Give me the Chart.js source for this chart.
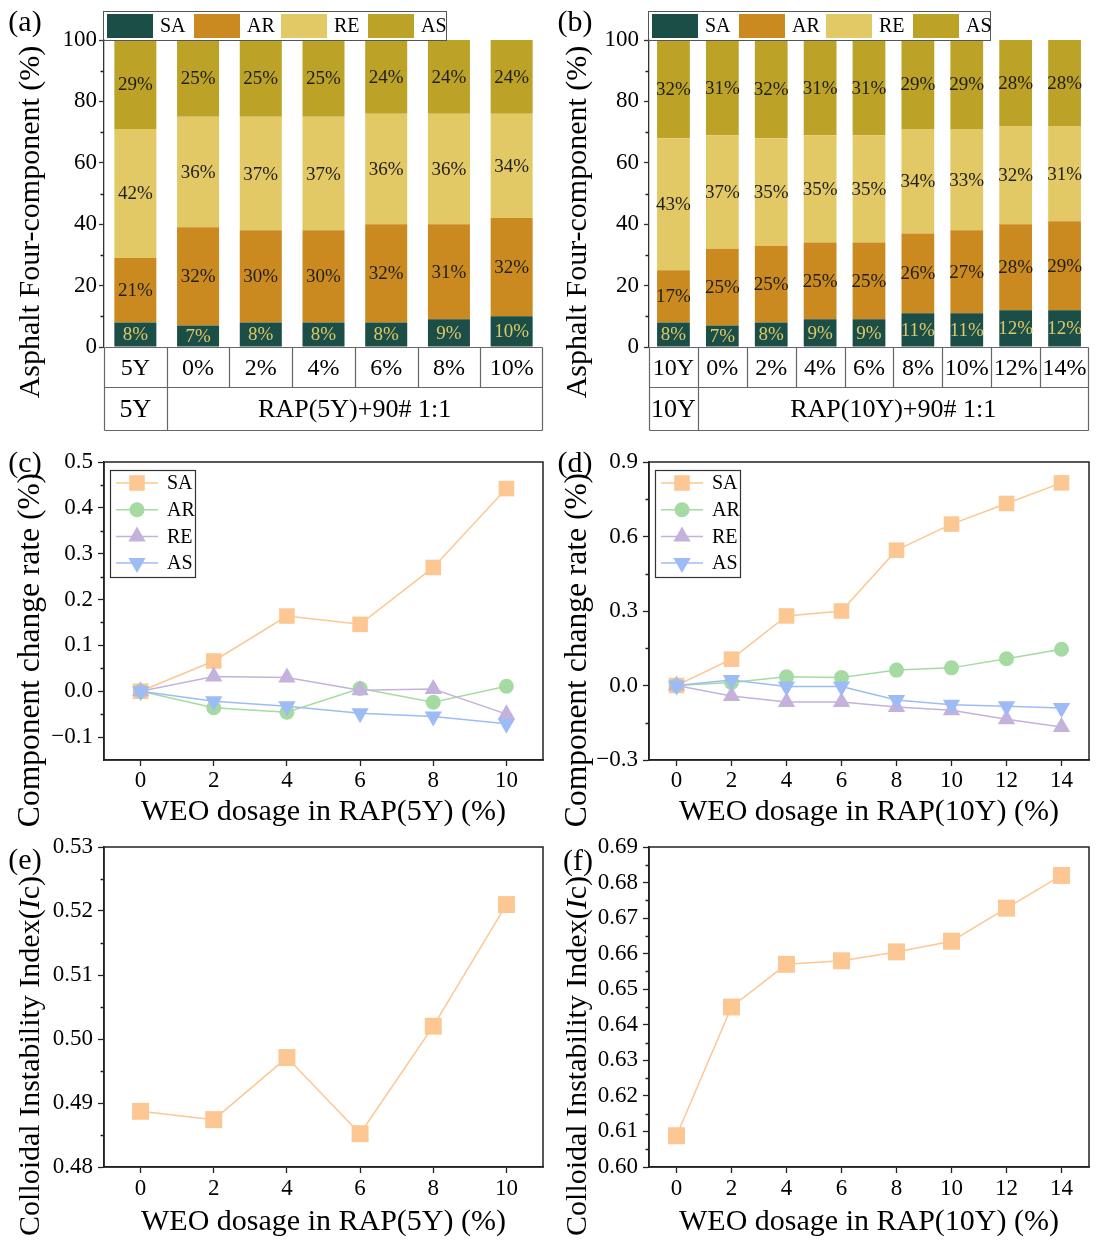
<!DOCTYPE html>
<html><head><meta charset="utf-8">
<script src="https://cdn.jsdelivr.net/npm/chart.js@4.4.0/dist/chart.umd.min.js"></script>
<style>
html,body{margin:0;padding:0;background:#fff;}
#page{position:relative;width:1096px;height:1249px;overflow:hidden;font-family:'Liberation Serif','Times New Roman',serif;color:#000;}
.box{position:absolute;}
.box canvas{display:block;}
.plab{position:absolute;font-size:30px;line-height:1;white-space:nowrap;transform:translate(-50%,-50%);z-index:5;}
.ytl{position:absolute;font-size:30px;line-height:1;white-space:nowrap;transform:translate(-50%,-50%) rotate(-90deg);z-index:5;}
</style></head>
<body><div id="page">
<div class="box" style="left:0;top:0;"><canvas id="ca" width="548" height="440"></canvas></div>
<div class="box" style="left:548px;top:0;"><canvas id="cb" width="548" height="440"></canvas></div>
<div class="box" style="left:0;top:440px;"><canvas id="cc" width="548" height="400"></canvas></div>
<div class="box" style="left:548px;top:440px;"><canvas id="cd" width="548" height="400"></canvas></div>
<div class="box" style="left:0;top:825px;"><canvas id="ce" width="548" height="424"></canvas></div>
<div class="box" style="left:548px;top:825px;"><canvas id="cf" width="548" height="424"></canvas></div>

<div class="plab" style="left:25px;top:21px;">(a)</div>
<div class="plab" style="left:575px;top:21px;">(b)</div>
<div class="plab" style="left:25px;top:462px;">(c)</div>
<div class="plab" style="left:575px;top:462px;">(d)</div>
<div class="plab" style="left:25px;top:859px;">(e)</div>
<div class="plab" style="left:578px;top:860px;">(f)</div>

<div class="ytl" style="left:29px;top:222px;">Asphalt Four-component (%)</div>
<div class="ytl" style="left:576px;top:222px;">Asphalt Four-component (%)</div>
<div class="ytl" style="left:29px;top:650px;font-size:31.5px;">Component change rate (%)</div>
<div class="ytl" style="left:576px;top:650px;font-size:31.5px;">Component change rate (%)</div>
<div class="ytl" style="left:29px;top:1056px;">Colloidal Instability Index(<i>I</i>c)</div>
<div class="ytl" style="left:576px;top:1056px;">Colloidal Instability Index(<i>I</i>c)</div>
</div>
<script>
// ---------------- DATA ----------------
const compNames = ['SA', 'AR', 'RE', 'AS'];

// (a) RAP(5Y)
const aCats = ['5Y', '0%', '2%', '4%', '6%', '8%', '10%'];
const aSA = [8, 7, 8, 8, 8, 9, 10];
const aAR = [21, 32, 30, 30, 32, 31, 32];
const aRE = [42, 36, 37, 37, 36, 36, 34];
const aAS = [29, 25, 25, 25, 24, 24, 24];
const aRow2First = '5Y';
const aRow2Rest = 'RAP(5Y)+90# 1:1';

// (b) RAP(10Y)
const bCats = ['10Y', '0%', '2%', '4%', '6%', '8%', '10%', '12%', '14%'];
const bSA = [8, 7, 8, 9, 9, 11, 11, 12, 12];
const bAR = [17, 25, 25, 25, 25, 26, 27, 28, 29];
const bRE = [43, 37, 35, 35, 35, 34, 33, 32, 31];
const bAS = [32, 31, 32, 31, 31, 29, 29, 28, 28];
const bRow2First = '10Y';
const bRow2Rest = 'RAP(10Y)+90# 1:1';

const barYTicks = [0, 20, 40, 60, 80, 100];

// (c) change rate, RAP(5Y)
const cX = [0, 2, 4, 6, 8, 10];
const cSA = [0, 0.066, 0.164, 0.146, 0.270, 0.442];
const cAR = [0, -0.036, -0.046, 0.006, -0.024, 0.011];
const cRE = [0, 0.032, 0.030, 0.002, 0.005, -0.050];
const cAS = [0, -0.022, -0.033, -0.048, -0.055, -0.071];
const cYTicks = [-0.1, 0.0, 0.1, 0.2, 0.3, 0.4, 0.5];

// (d) change rate, RAP(10Y)
const dX = [0, 2, 4, 6, 8, 10, 12, 14];
const dSA = [0, 0.106, 0.280, 0.300, 0.545, 0.650, 0.733, 0.816];
const dAR = [0, 0.012, 0.035, 0.032, 0.062, 0.071, 0.108, 0.146];
const dRE = [0, -0.042, -0.066, -0.066, -0.087, -0.100, -0.136, -0.167];
const dAS = [0, 0.022, -0.004, -0.004, -0.058, -0.078, -0.084, -0.091];
const dYTicks = [-0.3, 0.0, 0.3, 0.6, 0.9];

// (e) colloidal instability index, RAP(5Y)
const eX = [0, 2, 4, 6, 8, 10];
const eIc = [0.4887, 0.4874, 0.4971, 0.4852, 0.5020, 0.5210];
const eYTicks = [0.48, 0.49, 0.50, 0.51, 0.52, 0.53];

// (f) colloidal instability index, RAP(10Y)
const fX = [0, 2, 4, 6, 8, 10, 12, 14];
const fIc = [0.6088, 0.6450, 0.6570, 0.6580, 0.6605, 0.6635, 0.6728, 0.6820];
const fYTicks = [0.60, 0.61, 0.62, 0.63, 0.64, 0.65, 0.66, 0.67, 0.68, 0.69];

const x5Ticks = [0, 2, 4, 6, 8, 10];
const x10Ticks = [0, 2, 4, 6, 8, 10, 12, 14];

// ---------------- STYLE ----------------
const FONT = "'Liberation Serif','Times New Roman',serif";
Chart.defaults.font.family = FONT;
Chart.defaults.color = '#000';
Chart.defaults.animation = false;

const barColors = ['#1b4e46', '#cb8a1f', '#e3c965', '#bca226'];
const lineColors = ['#fcc792', '#a5dba2', '#c4b2dc', '#9dbcf5'];
const lineStyles = [
  {pointStyle: 'rect', pointRadius: 11, pointRotation: 0},
  {pointStyle: 'circle', pointRadius: 7.5, pointRotation: 0},
  {pointStyle: 'triangle', pointRadius: 10, pointRotation: 0},
  {pointStyle: 'triangle', pointRadius: 10, pointRotation: 180}
];

function fmt(dec) {
  return v => {
    const s = Number(v).toFixed(dec);
    return s.charAt(0) === '-' ? '\u2212' + s.slice(1) : s;
  };
}

function drawMarker(ctx, style, r, rot, x, y, color) {
  ctx.save();
  ctx.fillStyle = color;
  ctx.beginPath();
  if (style === 'rect') {
    const s = r * Math.SQRT1_2;
    ctx.rect(x - s, y - s, 2 * s, 2 * s);
  } else if (style === 'circle') {
    ctx.arc(x, y, r, 0, Math.PI * 2);
  } else {
    let a = (rot || 0) * Math.PI / 180;
    for (let k = 0; k < 3; k++) {
      const px = x + Math.sin(a) * r, py = y - Math.cos(a) * r;
      if (k) ctx.lineTo(px, py); else ctx.moveTo(px, py);
      a += 2 * Math.PI / 3;
    }
    ctx.closePath();
  }
  ctx.fill();
  ctx.restore();
}

// ---------------- PLUGINS ----------------
const minorTicks = {
  id: 'minorTicks',
  afterDraw(chart, args, o) {
    const s = chart.scales.y, ctx = chart.ctx;
    const t = s.ticks.map(k => k.value);
    ctx.save();
    ctx.strokeStyle = o.color || '#222';
    ctx.lineWidth = o.width || 1.3;
    ctx.beginPath();
    for (let i = 0; i < t.length - 1; i++) {
      const py = Math.round(s.getPixelForValue((t[i] + t[i + 1]) / 2)) + 0.5;
      ctx.moveTo(s.right - (o.len || 3.5), py);
      ctx.lineTo(s.right, py);
    }
    ctx.stroke();
    ctx.restore();
  }
};

const frame = {
  id: 'frame',
  afterDraw(chart, args, o) {
    if (!o.show) return;
    const {ctx, chartArea: a} = chart;
    ctx.save();
    ctx.strokeStyle = '#222';
    ctx.lineWidth = 1.5;
    ctx.strokeRect(a.left, a.top, a.right - a.left, a.bottom - a.top);
    ctx.restore();
  }
};

const lineLegend = {
  id: 'lineLegend',
  afterDraw(chart, args, o) {
    if (!o.show) return;
    const {ctx, chartArea: a} = chart;
    const L = a.left + o.dx, T = a.top + o.dy;
    ctx.save();
    ctx.strokeStyle = '#333';
    ctx.lineWidth = 1.2;
    ctx.strokeRect(L + 0.5, T + 0.5, o.w, o.h);
    ctx.font = o.fs + 'px ' + FONT;
    ctx.textBaseline = 'middle';
    chart.data.datasets.forEach((ds, i) => {
      const y = T + o.y0 + i * o.step;
      ctx.strokeStyle = ds.borderColor;
      ctx.lineWidth = ds.borderWidth;
      ctx.beginPath();
      ctx.moveTo(L + 6, y);
      ctx.lineTo(L + 48, y);
      ctx.stroke();
      drawMarker(ctx, ds.pointStyle, ds.pointRadius, ds.pointRotation, L + 27, y, ds.backgroundColor);
      ctx.fillStyle = '#000';
      ctx.fillText(ds.label, L + 57, y + 1);
    });
    ctx.restore();
  }
};

const barLegend = {
  id: 'barLegend',
  afterDraw(chart, args, o) {
    if (!o.show) return;
    const {ctx, chartArea: a} = chart;
    const L = Math.round(a.left) - 1;
    ctx.save();
    ctx.strokeStyle = '#555';
    ctx.lineWidth = 1;
    ctx.strokeRect(L + 0.5, o.top + 0.5, o.w, o.h);
    ctx.font = o.fs + 'px ' + FONT;
    ctx.textBaseline = 'middle';
    chart.data.datasets.forEach((ds, i) => {
      const x = L + 4 + i * o.step;
      ctx.fillStyle = ds.backgroundColor;
      ctx.fillRect(x, o.top + 3, o.sw, o.h - 5);
      ctx.fillStyle = '#000';
      ctx.fillText(ds.label, x + o.sw + 7, o.top + o.h / 2 + 1);
    });
    ctx.restore();
  }
};

const barValues = {
  id: 'barValues',
  afterDatasetsDraw(chart, args, o) {
    if (!o.show) return;
    const ctx = chart.ctx;
    ctx.save();
    ctx.font = o.fs + 'px ' + FONT;
    ctx.textAlign = 'center';
    ctx.textBaseline = 'middle';
    chart.data.datasets.forEach((ds, di) => {
      const meta = chart.getDatasetMeta(di);
      meta.data.forEach((el, i) => {
        const p = el.getProps(['x', 'y', 'base'], true);
        ctx.fillStyle = di === 0 ? o.light : o.dark;
        ctx.fillText(ds.data[i] + '%', p.x, (p.y + p.base) / 2 + 1);
      });
    });
    ctx.restore();
  }
};

const table = {
  id: 'table',
  afterDraw(chart, args, o) {
    if (!o.show) return;
    const {ctx, chartArea: a, scales: {x}} = chart;
    const n = chart.data.labels.length;
    const half = (x.getPixelForValue(1) - x.getPixelForValue(0)) / 2;
    const y0 = Math.round(a.bottom) + 0.5, y1 = y0 + o.r1, y2 = y1 + o.r2;
    const L = Math.round(a.left) + 0.5, R = Math.round(a.right) - 0.5;
    ctx.save();
    ctx.strokeStyle = '#666';
    ctx.lineWidth = 1.2;
    ctx.beginPath();
    [y0, y1, y2].forEach(y => { ctx.moveTo(L, y); ctx.lineTo(R, y); });
    ctx.moveTo(L, y0); ctx.lineTo(L, y2);
    ctx.moveTo(R, y0); ctx.lineTo(R, y2);
    for (let i = 0; i < n - 1; i++) {
      const xb = Math.round(x.getPixelForValue(i) + half) + 0.5;
      ctx.moveTo(xb, y0);
      ctx.lineTo(xb, i === 0 ? y2 : y1);
    }
    ctx.stroke();
    ctx.fillStyle = '#000';
    ctx.textAlign = 'center';
    ctx.textBaseline = 'middle';
    ctx.font = o.fs1 + 'px ' + FONT;
    chart.data.labels.forEach((l, i) => ctx.fillText(l, x.getPixelForValue(i), (y0 + y1) / 2 + 1));
    ctx.font = o.fs2 + 'px ' + FONT;
    ctx.fillText(o.first, x.getPixelForValue(0), (y1 + y2) / 2 + 1);
    const xb0 = x.getPixelForValue(0) + half;
    ctx.fillText(o.rest, (xb0 + R) / 2, (y1 + y2) / 2 + 1);
    ctx.restore();
  }
};

Chart.register(minorTicks, frame, lineLegend, barLegend, barValues, table);

// ---------------- BUILDERS ----------------
function barChart(id, cats, series, yWidth, padRight, row1, row2, tickPad, legendW) {
  return new Chart(document.getElementById(id), {
    type: 'bar',
    data: {
      labels: cats,
      datasets: series.map((d, i) => ({
        label: compNames[i], data: d, backgroundColor: barColors[i],
        borderWidth: 0, barPercentage: 0.67, categoryPercentage: 1
      }))
    },
    options: {
      responsive: false,
      layout: {autoPadding: false, padding: {left: 0, right: padRight, top: 40, bottom: 93}},
      plugins: {
        legend: {display: false}, tooltip: {enabled: false},
        minorTicks: {len: 3.5},
        frame: {show: false},
        lineLegend: {show: false},
        barLegend: {show: true, top: 11, h: 29, w: legendW, step: 87, sw: 46, fs: 20},
        barValues: {show: true, fs: 19, light: '#dcc86a', dark: '#1e1e1e'},
        table: {show: true, r1: 40, r2: 43, fs1: 24, fs2: 26, first: row1, rest: row2}
      },
      scales: {
        x: {stacked: true, display: false},
        y: {
          stacked: true, min: 0, max: 100,
          afterBuildTicks: s => { s.ticks = barYTicks.map(v => ({value: v})); },
          afterFit: s => { s.width = yWidth; s.paddingTop = 0; s.paddingBottom = 0; },
          ticks: {font: {size: 23}, padding: tickPad, callback: fmt(0)},
          grid: {drawOnChartArea: false, drawTicks: true, tickLength: 5, tickColor: '#333', tickWidth: 1.3},
          border: {display: true, color: '#333', width: 1.3}
        }
      }
    }
  });
}

function lineChart(id, xs, series, xMin, xMax, xTicks, yMin, yMax, yTicks, dec, xTitle, yWidth, padRight, xHeight, titlePad, xTickPad, showLegend, radius) {
  return new Chart(document.getElementById(id), {
    type: 'line',
    data: {
      datasets: series.map((d, i) => ({
        label: compNames[i],
        data: xs.map((x, k) => ({x: x, y: d[k]})),
        borderColor: lineColors[i], backgroundColor: lineColors[i],
        borderWidth: 1.5,
        pointStyle: lineStyles[i].pointStyle,
        pointRadius: radius || lineStyles[i].pointRadius,
        pointRotation: lineStyles[i].pointRotation,
        pointBorderWidth: 0,
        pointBackgroundColor: lineColors[i],
        pointBorderColor: lineColors[i],
        order: series.length - i,
        clip: false,
        tension: 0
      }))
    },
    options: {
      responsive: false,
      layout: {autoPadding: false, padding: {left: 0, right: padRight, top: 22, bottom: 0}},
      plugins: {
        legend: {display: false}, tooltip: {enabled: false},
        minorTicks: {len: 3.5},
        frame: {show: true},
        lineLegend: {show: showLegend, dx: 6, dy: 8, w: 85, h: 107, y0: 13, step: 26.7, fs: 20},
        barLegend: {show: false},
        barValues: {show: false},
        table: {show: false}
      },
      scales: {
        x: {
          type: 'linear', min: xMin, max: xMax,
          afterBuildTicks: s => { s.ticks = xTicks.map(v => ({value: v})); },
          afterFit: s => { s.height = xHeight; s.paddingLeft = 0; s.paddingRight = 0; },
          ticks: {font: {size: 23}, padding: xTickPad, callback: fmt(0), maxRotation: 0},
          grid: {drawOnChartArea: false, drawTicks: true, tickLength: 6, tickColor: '#222', tickWidth: 1.3},
          border: {display: true, color: '#222', width: 1.5},
          title: {display: true, text: xTitle, font: {size: 30}, padding: {top: 0, bottom: titlePad}}
        },
        y: {
          min: yMin, max: yMax,
          afterBuildTicks: s => { s.ticks = yTicks.map(v => ({value: v})); },
          afterFit: s => { s.width = yWidth; s.paddingTop = 0; s.paddingBottom = 0; },
          ticks: {font: {size: 23}, padding: 5, callback: fmt(dec)},
          grid: {drawOnChartArea: false, drawTicks: true, tickLength: 6, tickColor: '#222', tickWidth: 1.3},
          border: {display: true, color: '#222', width: 1.5}
        }
      }
    }
  });
}

barChart('ca', aCats, [aSA, aAR, aRE, aAS], 104, 5, aRow2First, aRow2Rest, 2, 343);
barChart('cb', bCats, [bSA, bAR, bRE, bAS], 101, 7, bRow2First, bRow2Rest, 5, 342);

lineChart('cc', cX, [cSA, cAR, cRE, cAS], -1, 11, x5Ticks, -0.15, 0.5, cYTicks, 1, 'WEO dosage in RAP(5Y) (%)', 104, 5, 80, 10, 1, true);
lineChart('cd', dX, [dSA, dAR, dRE, dAS], -1, 15, x10Ticks, -0.3, 0.9, dYTicks, 1, 'WEO dosage in RAP(10Y) (%)', 101, 7, 80, 10, 1, true);
lineChart('ce', eX, [eIc], -1, 11, x5Ticks, 0.48, 0.53, eYTicks, 2, 'WEO dosage in RAP(5Y) (%)', 104, 5, 82, 9, 2, false, 12);
lineChart('cf', fX, [fIc], -1, 15, x10Ticks, 0.60, 0.69, fYTicks, 2, 'WEO dosage in RAP(10Y) (%)', 101, 7, 82, 9, 2, false, 12);
</script>
</body></html>
